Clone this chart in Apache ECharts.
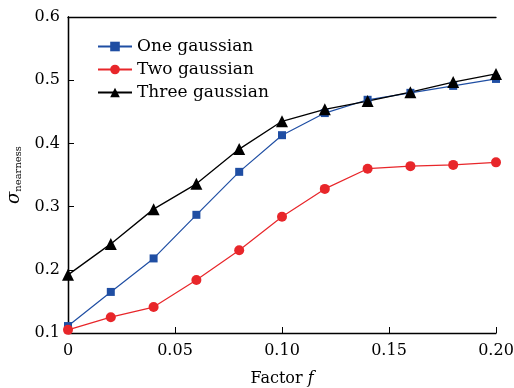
<!DOCTYPE html>
<html><head><meta charset="utf-8">
<script src="https://cdn.jsdelivr.net/npm/echarts@6/dist/echarts.min.js"></script>
<style>html,body{margin:0;padding:0;background:#fff}#c{width:514px;height:388px}</style>
</head><body><div id="c"></div>
<script>
const factors = [0, 0.02, 0.04, 0.06, 0.08, 0.10, 0.12, 0.14, 0.16, 0.18, 0.20];
const oneGaussian = [0.111, 0.165, 0.218, 0.287, 0.355, 0.413, 0.448, 0.469, 0.480, 0.491, 0.502];
const twoGaussian = [0.105, 0.125, 0.141, 0.184, 0.231, 0.284, 0.328, 0.360, 0.364, 0.366, 0.370];
const threeGaussian = [0.192, 0.241, 0.296, 0.336, 0.391, 0.435, 0.454, 0.467, 0.481, 0.497, 0.510];
const xTickLabels = ['0', '0.05', '0.10', '0.15', '0.20'];
const yTickLabels = ['0.1', '0.2', '0.3', '0.4', '0.5', '0.6'];

const FONT = 'DejaVu Serif';
const pair = (ys) => factors.map((x, i) => [x, ys[i]]);
const chart = echarts.init(document.getElementById('c'));
const axisLine = {show: true, lineStyle: {color: '#000', width: 1.3}};
chart.setOption({
  animation: false,
  grid: {left: 68, right: 18, top: 17, bottom: 55, containLabel: false, outerBoundsMode: 'none'},
  legend: {
    left: 92, top: 33, orient: 'vertical', itemGap: 6, itemWidth: 34, itemHeight: 12,
    textStyle: {fontFamily: FONT, fontSize: 17, color: '#000'},
    data: ['One gaussian', 'Two gaussian', 'Three gaussian']
  },
  xAxis: [{
    type: 'value', min: 0, max: 0.2, interval: 0.05,
    axisLine: axisLine, splitLine: {show: false},
    axisTick: {inside: true, length: 6, lineStyle: {color: '#000'}},
    axisLabel: {fontFamily: FONT, fontSize: 16, color: '#000', margin: 10,
      formatter: (v) => xTickLabels[Math.round(v / 0.05)]},
    name: '{n|Factor }{i|f}', nameLocation: 'middle', nameGap: 38,
    nameTextStyle: {rich: {n: {fontFamily: FONT, fontSize: 16, color: '#000'},
      i: {fontFamily: FONT, fontSize: 16, fontStyle: 'italic', color: '#000'}}}
  }, {
    type: 'value', position: 'top', min: 0, max: 0.2, axisLine: axisLine,
    axisTick: {show: false}, axisLabel: {show: false}, splitLine: {show: false}
  }],
  yAxis: [{
    type: 'value', min: 0.1, max: 0.6, interval: 0.1,
    axisLine: axisLine, splitLine: {show: false},
    axisTick: {inside: true, length: 6, lineStyle: {color: '#000'}},
    axisLabel: {fontFamily: FONT, fontSize: 16, color: '#000', margin: 8,
      formatter: (v) => yTickLabels[Math.round((v - 0.1) / 0.1)]},
    name: '{s|σ}{b|nearness}', nameLocation: 'middle', nameGap: 45, nameRotate: 90,
    nameTextStyle: {rich: {s: {fontFamily: FONT, fontSize: 18, fontStyle: 'italic', color: '#000'},
      b: {fontFamily: FONT, fontSize: 10, color: '#000', verticalAlign: 'bottom', padding: [8, 0, 0, 0]}}}
  }, {
    type: 'value', position: 'right', min: 0.1, max: 0.6, axisLine: axisLine,
    axisTick: {show: false}, axisLabel: {show: false}, splitLine: {show: false}
  }],
  series: [
    {name: 'One gaussian', type: 'line', data: pair(oneGaussian), symbol: 'rect', symbolSize: 8,
      color: '#1f4ea3', lineStyle: {width: 1.2}, itemStyle: {color: '#1f4ea3'}},
    {name: 'Two gaussian', type: 'line', data: pair(twoGaussian), symbol: 'circle', symbolSize: 10,
      color: '#e8262a', lineStyle: {width: 1.2}, itemStyle: {color: '#e8262a'}},
    {name: 'Three gaussian', type: 'line', data: pair(threeGaussian), symbol: 'triangle', symbolSize: 12,
      color: '#000', lineStyle: {width: 1.3}, itemStyle: {color: '#000'}}
  ]
});
</script></body></html>
